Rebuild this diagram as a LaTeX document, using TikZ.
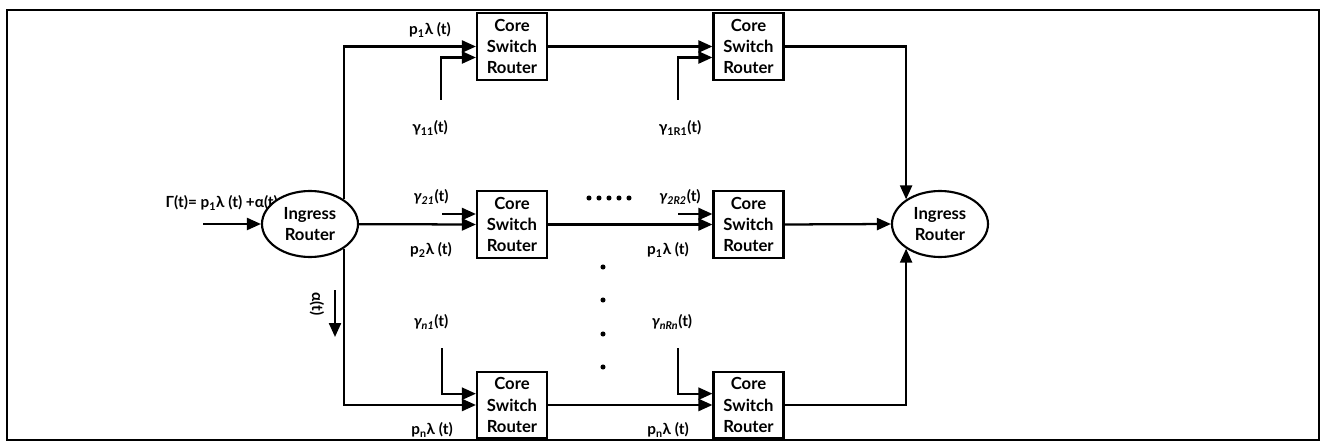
\documentclass[tikz,border=0pt]{standalone}
\usepackage{fontspec}
\setmainfont{Lato}[UprightFont=* Bold,ItalicFont=* Bold Italic]
\usetikzlibrary{arrows.meta,shapes.geometric}
\begin{document}
\begin{tikzpicture}[x=0.75pt,y=-0.75pt,
  line width=1.7pt,
  arr/.style={-{Triangle[length=10.5pt,width=9pt]}},
  corebox/.style={draw,line width=1.6pt,minimum width=52.5pt,minimum height=50pt,
    align=center,font=\fontsize{12.5}{16}\selectfont,inner sep=0pt,fill=white},
  router/.style={draw,ellipse,line width=1.6pt,minimum width=72pt,minimum height=49.5pt,
    align=center,font=\fontsize{12.5}{15.5}\selectfont,inner sep=0pt,fill=white},
  lbl/.style={font=\fontsize{11.5}{13}\selectfont,inner sep=0pt},
  dot/.style={circle,fill,inner sep=0pt,minimum size=3.8pt}]
\useasboundingbox (0,0) rectangle (1325,442);
\draw[line width=1.7pt] (7,10) rectangle (1319,440);

% source label; its last parenthesis runs under the ingress router
\node[lbl,anchor=east] (gam) at (279,203) {Γ(t)= p\textsubscript{1}λ (t) +α(t)};

% routers
\node[router] (ingL) at (310,224) {Ingress\\Router};
\node[router] (ingR) at (940,224) {Ingress\\Router};

% core switch routers
\node[corebox] (b11) at (512,46.5) {Core\\Switch\\Router};
\node[corebox] (b12) at (748.5,46.5) {Core\\Switch\\Router};
\node[corebox] (b21) at (512,224.5) {Core\\Switch\\Router};
\node[corebox] (b22) at (748.5,224.5) {Core\\Switch\\Router};
\node[corebox] (b31) at (512,405) {Core\\Switch\\Router};
\node[corebox] (b32) at (748.5,405) {Core\\Switch\\Router};

% input to the left router
\coordinate (src) at (203,224);
\draw[arr] (src) -- (ingL.west);

% branches out of the left router
\draw[arr] (ingL.36) |- (b11.west);
\draw[arr] (ingL) -- (b21.west);
\draw[arr] (ingL.-36) |- (b31.west);

% alpha flow
\coordinate (a1) at (335,290);
\coordinate (a2) at (335,337);
\draw[arr] (a1) -- (a2);
\node[lbl,rotate=-90] (alab) at (317,304) {α(t)};

% chains
\draw[arr] (b11.east) -- (b12.west);
\draw[arr] (b21.east) -- (b22.west);
\draw[arr] (b31.east) -- (b32.west);

% into the right router
\draw[arr] (b12.east) -| (ingR.144);
\draw[arr] (b22.east) -- (ingR.west);
\draw[arr] (b32.east) -| (ingR.-144);

% local inputs gamma
\coordinate (g11) at (441,100);
\coordinate (g12) at (678,100);
\coordinate (g21) at (442,214);
\coordinate (g22) at (678,214);
\coordinate (g31) at (442,348);
\coordinate (g32) at (678,348);
\draw[arr] (g11) |- ([yshift=-8.25pt]b11.west);
\draw[arr] (g12) |- ([yshift=-8.25pt]b12.west);
\draw[arr] (g21) -- (g21 -| b21.west);
\draw[arr] (g22) -- (g22 -| b22.west);
\draw[arr] (g31) |- ([yshift=8.5pt]b31.west);
\draw[arr] (g32) |- ([yshift=8.5pt]b32.west);

% labels
\node[lbl] (l1) at (430,30) {p\textsubscript{1}λ (t)};
\node[lbl] (l2) at (430,128) {γ\textsubscript{11}(t)};
\node[lbl] (l3) at (680,128) {γ\textsubscript{1R1}(t)};
\node[lbl] (l4) at (431,197) {\textit{γ\textsubscript{21}}(t)};
\node[lbl] (l5) at (431,250) {p\textsubscript{2}λ (t)};
\node[lbl] (l6) at (680,197) {\textit{γ\textsubscript{2R2}}(t)};
\node[lbl] (l7) at (668,250) {p\textsubscript{1}λ (t)};
\node[lbl] (l8) at (431,322) {\textit{γ\textsubscript{n1}}(t)};
\node[lbl] (l9) at (432,430) {p\textsubscript{n}λ (t)};
\node[lbl] (l10) at (672,322) {\textit{γ\textsubscript{nRn}}(t)};
\node[lbl] (l11) at (668,430) {p\textsubscript{n}λ (t)};

% ellipsis dots
\foreach \i in {0,...,4} \node[dot] (h\i) at (589+10*\i,198) {};
\foreach \y [count=\i] in {267,300,334,367} \node[dot] (v\i) at (603,\y) {};
\end{tikzpicture}
\end{document}
